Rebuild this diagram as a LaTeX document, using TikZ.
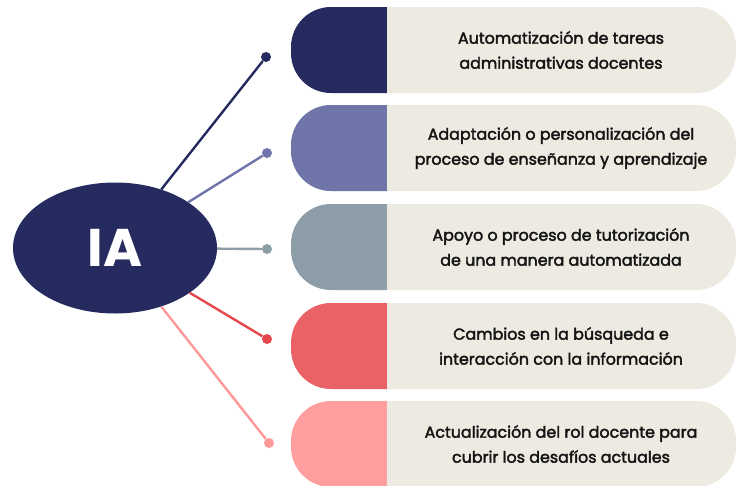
\documentclass[tikz,border=0pt]{standalone}
\usepackage{fontspec}
\setmainfont{Poppins}
\newfontfamily\labelfont{Poppins}[FakeBold=2.3]
\usetikzlibrary{shapes.geometric}
\definecolor{navy}{HTML}{252B5E}
\definecolor{cTwo}{HTML}{6F74A9}
\definecolor{cThree}{HTML}{8E9EA8}
\definecolor{cFour}{HTML}{EA6265}
\definecolor{cFive}{HTML}{FF9E9F}
\definecolor{lFour}{HTML}{E8474D}
\definecolor{lFive}{HTML}{FF9898}
\definecolor{paper}{HTML}{EDEAE2}
\begin{document}
\begin{tikzpicture}[x=1pt,y=-1pt,
  dotnode/.style={circle,fill=#1,minimum size=10pt,inner sep=0pt},
  link/.style={draw=#1,line width=2.4pt},
  label/.style={align=center,font=\labelfont\fontsize{15.9}{25}\selectfont,text=black!92,inner sep=0pt}]
\useasboundingbox (0,0) rectangle (736,485);
\fill[white] (0,0) rectangle (736,485);
% boxes
\foreach \yc/\col in {50/navy,148/cTwo,247/cThree,346/cFour,444/cFive}{
  \begin{scope}
    \clip[rounded corners=40pt] (291,\yc-43) rectangle (736,\yc+43);
    \fill[\col] (280,\yc-45) rectangle (387,\yc+45);
    \fill[paper] (387,\yc-45) rectangle (740,\yc+45);
  \end{scope}
}
\node[label] (t1) at (561,50) {Automatización de tareas\\administrativas docentes};
\node[label] (t2) at (561,148) {Adaptación o personalización del\\proceso de enseñanza y aprendizaje};
\node[label] (t3) at (561,247) {Apoyo o proceso de tutorización\\de una manera automatizada};
\node[label] (t4) at (561,346) {Cambios en la búsqueda e\\interacción con la información};
\node[label] (t5) at (561,444) {Actualización del rol docente para\\cubrir los desafíos actuales};
% center
\node[ellipse,fill=navy,minimum width=204pt,minimum height=131pt,inner sep=0pt,
  text=white,font=\fontsize{53}{60}\selectfont\bfseries] (ia) at (115,248) {IA};
\node[dotnode=navy] (d1) at (266,57) {};
\node[dotnode=cTwo] (d2) at (267,153) {};
\node[dotnode=cThree] (d3) at (267,249) {};
\node[dotnode=lFour] (d4) at (267,339) {};
\node[dotnode=lFive] (d5) at (269,443) {};
\draw[link=navy] (ia) -- (d1);
\draw[link=cTwo] (ia) -- (d2);
\draw[link=cThree] (ia) -- (d3);
\draw[link=lFour] (ia) -- (d4);
\draw[link=lFive] (ia) -- (d5);
\end{tikzpicture}
\end{document}
